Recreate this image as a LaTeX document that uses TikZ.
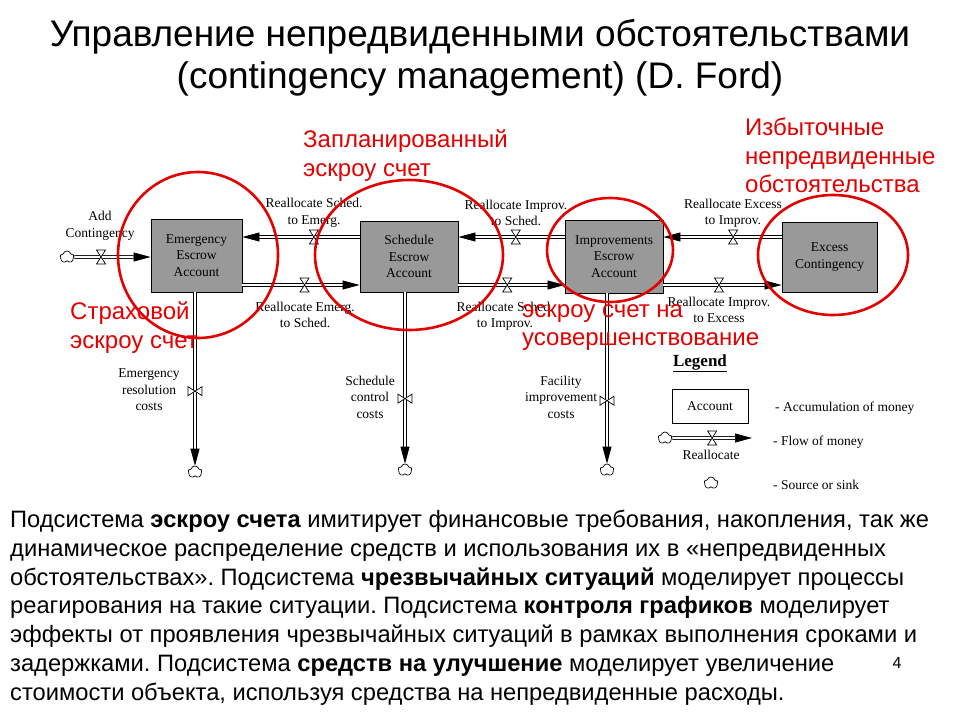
\documentclass[tikz,border=0pt]{standalone}
\usepackage{fontspec}
\setmainfont{Liberation Sans}
\newfontfamily\diagfont{Liberation Serif}
\usetikzlibrary{arrows.meta,positioning,shapes.symbols}
\definecolor{boxgray}{RGB}{153,153,153}
\definecolor{markred}{RGB}{226,0,0}
\frenchspacing

\begin{document}
\begin{tikzpicture}[
	x = 1pt, y = -1pt,
    >={Triangle[length=17pt,width=9pt]},
    account/.style = {
      draw,
      fill = boxgray,
      line width = 0.9pt,
      minimum width = 94pt,
      minimum height = 72pt,
      align = center,
      font = \diagfont\fontsize{13.5}{16.5}\selectfont},
    flow/.style = {
      double,
      double distance = 2.2pt,
      line width = 0.7pt},
    sink/.style = {
      draw,
      cloud,
      cloud puffs = 5,
      line width = 0.7pt,
      inner sep = 0pt,
      minimum width = 14pt,
      minimum height = 12pt},
    lab/.style = {
      align = center,
      inner sep = 0pt,
      font = \diagfont\fontsize{13.5}{16.5}\selectfont},
    note/.style = {
      anchor = west,
      align = left,
      inner sep = 0pt,
      text = markred,
      font = \fontsize{24}{28.7}\selectfont},
    ring/.style = {
      draw = markred,
      line width = 2.6pt},
    valve/.pic = {
      \draw[fill = white, line width = 0.7pt] (-4.5,-7) -- (4.5,-7) -- (-4.5,7) -- (4.5,7) -- cycle;}
      ]
  \useasboundingbox (0,0) rectangle (960,720);

  % Title
  \node[align = center, font = \fontsize{37}{42}\selectfont] (title) at (480,58)
    {Управление непредвиденными обстоятельствами\\(contingency management) (D. Ford)};

  % Rows of the flows
  \coordinate (rowAdd) at (0,257);
  \coordinate (rowTop) at (0,237);
  \coordinate (rowBot) at (0,285);

  % Accounts
  \node[account, minimum width = 91pt, minimum height = 73pt] (emerg) at (196.5,255.5) {Emergency\\Escrow\\Account};
  \node[account, minimum width = 98pt, minimum height = 71pt] (sched) at (409,256.5) {Schedule\\Escrow\\Account};
  \node[account, minimum width = 98pt, minimum height = 73pt] (improv) at (614,256.5) {Improvements\\Escrow\\Account};
  \node[account, minimum width = 95pt, minimum height = 70pt] (excess) at (829.5,257) {Excess\\Contingency};

  % Sources and sinks
  \node[sink] (srcAdd) at (67,257) {};
  \node[sink] (sinkE) at (195,472) {};
  \node[sink] (sinkS) at (405,470) {};
  \node[sink] (sinkI) at (607,470) {};

  % Flows between the accounts
  \draw[flow, ->] (srcAdd) -- (emerg.west |- rowAdd) coordinate[pos=.35] (vAdd);
  \draw[flow, <-] (emerg.east |- rowTop) -- (sched.west |- rowTop) coordinate[pos=.61] (vSE);
  \draw[flow, ->] (emerg.east |- rowBot) -- (sched.west |- rowBot) coordinate[pos=.53] (vES);
  \draw[flow, <-] (sched.east |- rowTop) -- (improv.west |- rowTop) coordinate[pos=.54] (vIS);
  \draw[flow, ->] (sched.east |- rowBot) -- (improv.west |- rowBot) coordinate[pos=.46] (vSI);
  \draw[flow, <-] (improv.east |- rowTop) -- (excess.west |- rowTop) coordinate[pos=.59] (vXI);
  \draw[flow, ->] (improv.east |- rowBot) -- (excess.west |- rowBot) coordinate[pos=.47] (vIX);

  % Flows out to the sinks
  \draw[flow, ->] (sinkE |- emerg.south) -- (sinkE) coordinate[pos=.57] (vE);
  \draw[flow, ->] (sinkS |- sched.south) -- (sinkS) coordinate[pos=.62] (vS);
  \draw[flow, ->] (sinkI |- improv.south) -- (sinkI) coordinate[pos=.63] (vI);

  % Valves
  \foreach \v in {vAdd, vSE, vES, vIS, vSI, vXI, vIX}
    \pic at (\v) {valve};
  \foreach \v in {vE, vS, vI}
    \pic[rotate = 90] at (\v) {valve};

  % Flow labels
  \node[lab] (lAdd) at (100,226) {Add\\Contingency};
  \node[lab] (lSE) at (314,213) {Reallocate Sched.\\to Emerg.};
  \node[lab] (lES) at (305,315) {Reallocate Emerg.\\to Sched.};
  \node[lab] (lIS) at (516,213) {Reallocate Improv.\\to Sched.};
  \node[lab] (lSI) at (505,316) {Reallocate Sched.\\to Improv.};
  \node[lab] (lXI) at (733,213) {Reallocate Excess\\to Improv.};
  \node[lab] (lIX) at (719,310) {Reallocate Improv.\\to Excess};
  \node[lab] (lE) at (149,390) {Emergency\\resolution\\costs};
  \node[lab] (lS) at (370,397) {Schedule\\control\\costs};
  \node[lab] (lI) at (561,397) {Facility\\improvement\\costs};

  % Legend
  \node[lab, font = \diagfont\bfseries\fontsize{17}{20}\selectfont] (legend) at (700,363) {\underline{Legend}};
  \node[account, fill = white, minimum width = 76pt, minimum height = 34pt] (legAcc) at (710,406) {Account};
  \node[sink] (legSrc) at (665,438) {};
  \coordinate (legTip) at (752,438);
  \draw[flow, ->] (legSrc) -- (legTip) coordinate[pos=.5] (vLeg);
  \pic at (vLeg) {valve};
  \node[lab] (legRe) at (711,455) {Reallocate};
  \node[sink] (legSink) at (711,483) {};
  \node[lab, anchor = west] (dAcc) at (775,408) {- Accumulation of money};
  \node[lab, anchor = west] (dFlow) at (773,442) {- Flow of money};
  \node[lab, anchor = west] (dSink) at (773,485) {- Source or sink};

  % Red marks
  \draw[ring] (198,255) ellipse [x radius = 80, y radius = 83];
  \draw[ring] (409,255) ellipse [x radius = 94, y radius = 75];
  \draw[ring] (610,250) ellipse [x radius = 63, y radius = 52];
  \draw[ring] (833,255) ellipse [x radius = 75, y radius = 60];
  \node[note] (nSched) at (303,155.5) {Запланированный\\эскроу счет};
  \node[note] (nExcess) at (745,155.5) {Избыточные\\непредвиденные\\обстоятельства};
  \node[note] (nEmerg) at (70,327.5) {Страховой\\эскроу счет};
  \node[note] (nImprov) at (522,327.5) {эскроу счет на\\усовершенствование};

  % Text below
  \node[anchor = north west, align = left, inner sep = 0pt, font = \fontsize{23.7}{28.8}\selectfont] (body) at (10,510)
    {Подсистема \textbf{эскроу счета} имитирует финансовые требования, накопления, так же\\
     динамическое распределение средств и использования их в «непредвиденных\\
     обстоятельствах». Подсистема \textbf{чрезвычайных ситуаций} моделирует процессы\\
     реагирования на такие ситуации. Подсистема \textbf{контроля графиков} моделирует\\
     эффекты от проявления чрезвычайных ситуаций в рамках выполнения сроками и\\
     задержками. Подсистема \textbf{средств на улучшение} моделирует увеличение\\
     стоимости объекта, используя средства на непредвиденные расходы.};
  \node[font = \fontsize{16}{19}\selectfont] (page) at (897,663) {4};

\end{tikzpicture}
\end{document}
